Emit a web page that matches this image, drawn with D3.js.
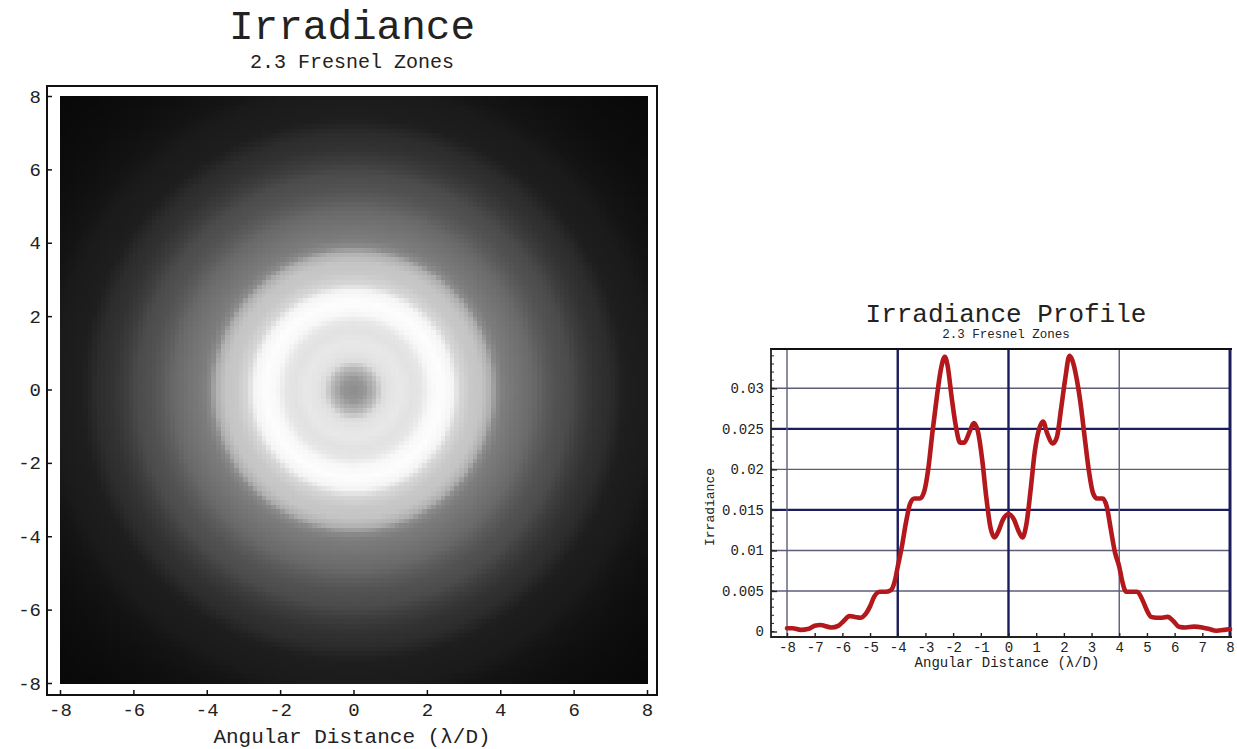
<!DOCTYPE html>
<html>
<head>
<meta charset="utf-8">
<script src="https://cdn.jsdelivr.net/npm/d3@7"></script>
<style>
  html, body { margin: 0; padding: 0; background: #ffffff; }
  svg { display: block; }
  text { font-family: "Liberation Mono", "DejaVu Sans Mono", monospace; fill: #222; }
</style>
</head>
<body>
<svg id="chart" width="1237" height="749"></svg>
<script>
// ---------------- DATA ----------------
// Left panel: titles / ticks
const leftTitle = "Irradiance";
const leftSubtitle = "2.3 Fresnel Zones";
const leftTicks = [-8, -6, -4, -2, 0, 2, 4, 6, 8];
const axisTitle = "Angular Distance (\u03BB/D)";

// Radial grey level of the 2-D irradiance image (radius in λ/D, grey 0-255)
const ringRadius = [0, 0.3, 0.6, 0.8, 1.0, 1.3, 1.6, 1.85, 2.1, 2.4, 2.7, 2.9, 3.2, 3.5, 3.75, 3.9, 4.1, 4.5, 4.9, 5.2, 5.5, 5.9, 6.2, 6.6, 7.0, 7.4, 7.8, 8.2, 8.6, 9.2, 10.0, 11.4];
const ringGrey   = [140, 150, 185, 220, 228, 232, 226, 230, 248, 253, 245, 215, 200, 196, 175, 140, 125, 115, 105, 92, 82, 75, 62, 50, 44, 30, 28, 26, 20, 16, 12, 8];

// Right panel: profile
const rightTitle = "Irradiance Profile";
const rightSubtitle = "2.3 Fresnel Zones";
const rightYLabel = "Irradiance";
const profileX = [-8.0, -7.8, -7.5, -7.25, -7.0, -6.8, -6.4, -6.15, -5.95, -5.75, -5.55, -5.35, -5.15, -5.0, -4.85, -4.65, -4.45, -4.25, -4.1, -4.0, -3.85, -3.7, -3.55, -3.4, -3.2, -3.05, -2.9, -2.75, -2.6, -2.45, -2.3, -2.2, -2.05, -1.9, -1.75, -1.6, -1.4, -1.25, -1.1, -0.95, -0.8, -0.65, -0.5, -0.35, -0.2, 0,
                  0.2, 0.35, 0.5, 0.65, 0.8, 0.95, 1.1, 1.25, 1.4, 1.6, 1.75, 1.9, 2.05, 2.2, 2.3, 2.45, 2.6, 2.75, 2.9, 3.05, 3.2, 3.4, 3.55, 3.7, 3.85, 4.0, 4.1, 4.25, 4.45, 4.65, 4.85, 5.0, 5.15, 5.35, 5.55, 5.75, 5.95, 6.15, 6.4, 6.7, 7.0, 7.25, 7.5, 7.8, 8.0];
const profileY = [0.0004, 0.0004, 0.0002, 0.0003, 0.0007, 0.0008, 0.0005, 0.0007, 0.0013, 0.0019, 0.0018, 0.0017, 0.0022, 0.0031, 0.0043, 0.0049, 0.0049, 0.0051, 0.0063, 0.0080, 0.0105, 0.0135, 0.0158, 0.0164, 0.0164, 0.0172, 0.0200, 0.0245, 0.0286, 0.0322, 0.0339, 0.0328, 0.0288, 0.0253, 0.0233, 0.0233, 0.0247, 0.0257, 0.0246, 0.0212, 0.0165, 0.0128, 0.0116, 0.0125, 0.0138, 0.0145,
                  0.0138, 0.0125, 0.0116, 0.0133, 0.0175, 0.0222, 0.0249, 0.0259, 0.0244, 0.0232, 0.0240, 0.0275, 0.0312, 0.0340, 0.0335, 0.0314, 0.0282, 0.0240, 0.0199, 0.0171, 0.0164, 0.0164, 0.0154, 0.0125, 0.0097, 0.0080, 0.0063, 0.0049, 0.0049, 0.0049, 0.0038, 0.0026, 0.0018, 0.0017, 0.0017, 0.0018, 0.0013, 0.0006, 0.0005, 0.0006, 0.0005, 0.0003, 0.0001, 0.0002, 0.0003];
const rightXTicks = [-8, -7, -6, -5, -4, -3, -2, -1, 0, 1, 2, 3, 4, 5, 6, 7, 8];
const rightYTicks = [0, 0.005, 0.01, 0.015, 0.02, 0.025, 0.03];
const rightYTickLabels = ["0", "0.005", "0.01", "0.015", "0.02", "0.025", "0.03"];
const gridXValues = [-8, -4, 0, 4, 8];
const gridYValues = [0.005, 0.01, 0.015, 0.02, 0.025, 0.03];

// ---------------- DRAW ----------------
const svg = d3.select("#chart");
svg.append("rect").attr("width", 1237).attr("height", 749).attr("fill", "#fff");

/* ===== Left panel: density image ===== */
const xL = d3.scaleLinear().domain([-8, 8]).range([60, 647]);
const yL = d3.scaleLinear().domain([-8, 8]).range([683, 96]);
const greyOf = d3.scaleLinear().domain(ringRadius).range(ringGrey).clamp(true);

const N = 128, step = 16 / N;
const cells = [];
for (let i = 0; i < N; i++) {
  for (let j = 0; j < N; j++) {
    const cx = -8 + (i + 0.5) * step, cy = -8 + (j + 0.5) * step;
    cells.push({ x0: -8 + i * step, y0: -8 + j * step, r: Math.hypot(cx, cy) });
  }
}
const gL = svg.append("g");
gL.append("g").attr("shape-rendering", "crispEdges")
  .selectAll("rect").data(cells).join("rect")
  .attr("x", d => xL(d.x0))
  .attr("y", d => yL(d.y0 + step))
  .attr("width", xL(step) - xL(0) + 0.6)
  .attr("height", yL(0) - yL(step) + 0.6)
  .attr("fill", d => { const g = Math.round(greyOf(d.r)); return `rgb(${g},${g},${g})`; });

// frame
gL.append("rect").attr("x", 47).attr("y", 86).attr("width", 610).attr("height", 609)
  .attr("fill", "none").attr("stroke", "#111").attr("stroke-width", 2);

// bottom ticks + labels
const axB = d3.axisBottom(xL).tickValues(leftTicks).tickFormat(d => String(d))
  .tickSizeInner(-5).tickSizeOuter(0).tickPadding(8);
const gAxB = gL.append("g").attr("transform", "translate(0,695)").call(axB);
gAxB.select(".domain").remove();
gAxB.selectAll("line").attr("stroke", "#111").attr("stroke-width", 1.5);
gAxB.selectAll("text").attr("font-size", 19).attr("font-family", "Liberation Mono").attr("fill", "#222");

// left ticks + labels
const axLft = d3.axisLeft(yL).tickValues(leftTicks).tickFormat(d => String(d))
  .tickSizeInner(-5).tickSizeOuter(0).tickPadding(6);
const gAxL = gL.append("g").attr("transform", "translate(47,0)").call(axLft);
gAxL.select(".domain").remove();
gAxL.selectAll("line").attr("stroke", "#111").attr("stroke-width", 1.5);
gAxL.selectAll("text").attr("font-size", 19).attr("font-family", "Liberation Mono").attr("fill", "#222");

gL.append("text").attr("x", 352).attr("y", 743).attr("text-anchor", "middle")
  .attr("font-size", 21).text(axisTitle);
gL.append("text").attr("x", 352).attr("y", 39).attr("text-anchor", "middle")
  .attr("font-size", 41).text(leftTitle);
gL.append("text").attr("x", 352).attr("y", 68).attr("text-anchor", "middle")
  .attr("font-size", 20).text(leftSubtitle);

/* ===== Right panel: profile ===== */
const xR = d3.scaleLinear().domain([-8, 8]).range([787, 1230]);
const yR = d3.scaleLinear().domain([0, 0.03]).range([631.5, 388.3]);
const fL = 771, fR = 1231, fT = 349, fB = 637;
const gR = svg.append("g");

const heavyX = new Set([-4, 0, 8]);
const heavyY = new Set([0.015, 0.025]);
const lightGridColour = "#5c5d7a", heavyGridColour = "#1b1d5c";

gR.append("g").selectAll("line").data(gridYValues).join("line")
  .attr("x1", fL).attr("x2", fR)
  .attr("y1", d => yR(d)).attr("y2", d => yR(d))
  .attr("stroke", d => heavyY.has(d) ? heavyGridColour : lightGridColour)
  .attr("stroke-width", d => heavyY.has(d) ? 2.4 : 1.4);
gR.append("g").selectAll("line").data(gridXValues).join("line")
  .attr("x1", d => xR(d)).attr("x2", d => xR(d))
  .attr("y1", fT).attr("y2", fB)
  .attr("stroke", d => heavyX.has(d) ? heavyGridColour : lightGridColour)
  .attr("stroke-width", d => d === 8 ? 3 : (heavyX.has(d) ? 2.4 : 1.4));

// frame lines
gR.append("line").attr("x1", fL - 1).attr("x2", fR + 1).attr("y1", fT).attr("y2", fT).attr("stroke", "#111").attr("stroke-width", 2.2);
gR.append("line").attr("x1", fL).attr("x2", fL).attr("y1", fT).attr("y2", fB + 1).attr("stroke", "#222").attr("stroke-width", 1.8);
gR.append("line").attr("x1", fL).attr("x2", fR + 1).attr("y1", fB).attr("y2", fB).attr("stroke", "#222").attr("stroke-width", 1.8);

// minor ticks on left axis
const minorY = d3.range(0, 0.0345, 0.001);
gR.append("g").selectAll("line").data(minorY).join("line")
  .attr("x1", fL).attr("x2", fL + 3)
  .attr("y1", d => yR(d)).attr("y2", d => yR(d))
  .attr("stroke", "#222").attr("stroke-width", 1);

// y axis labels
const axRY = d3.axisLeft(yR).tickValues(rightYTicks)
  .tickFormat((d, i) => rightYTickLabels[i]).tickSizeInner(-6).tickSizeOuter(0).tickPadding(7);
const gRY = gR.append("g").attr("transform", `translate(${fL},0)`).call(axRY);
gRY.select(".domain").remove();
gRY.selectAll("line").attr("stroke", "#222").attr("stroke-width", 1.4);
gRY.selectAll("text").attr("font-size", 14).attr("font-family", "Liberation Mono").attr("fill", "#333");

// x axis
const axRX = d3.axisBottom(xR).tickValues(rightXTicks).tickFormat(d => String(d))
  .tickSizeInner(-4).tickSizeOuter(0).tickPadding(5);
const gRX = gR.append("g").attr("transform", `translate(0,${fB})`).call(axRX);
gRX.select(".domain").remove();
gRX.selectAll("line").attr("stroke", "#222").attr("stroke-width", 1.4);
gRX.selectAll("text").attr("font-size", 14).attr("font-family", "Liberation Mono").attr("fill", "#333");

// curve
const pts = profileX.map((x, i) => [x, profileY[i]]);
gR.append("path").datum(pts)
  .attr("fill", "none").attr("stroke", "#b3191c").attr("stroke-width", 4.6)
  .attr("stroke-linejoin", "round").attr("stroke-linecap", "round")
  .attr("d", d3.line().x(d => xR(d[0])).y(d => yR(d[1])).curve(d3.curveMonotoneX));

// titles
gR.append("text").attr("x", 1006).attr("y", 322).attr("text-anchor", "middle")
  .attr("font-size", 26).text(rightTitle);
gR.append("text").attr("x", 1006).attr("y", 338).attr("text-anchor", "middle")
  .attr("font-size", 12.5).text(rightSubtitle);
gR.append("text").attr("x", 1007).attr("y", 667).attr("text-anchor", "middle")
  .attr("font-size", 14).text(axisTitle);
gR.append("text").attr("transform", "translate(714,507) rotate(-90)").attr("text-anchor", "middle")
  .attr("font-size", 13).text(rightYLabel);
</script>
</body>
</html>
